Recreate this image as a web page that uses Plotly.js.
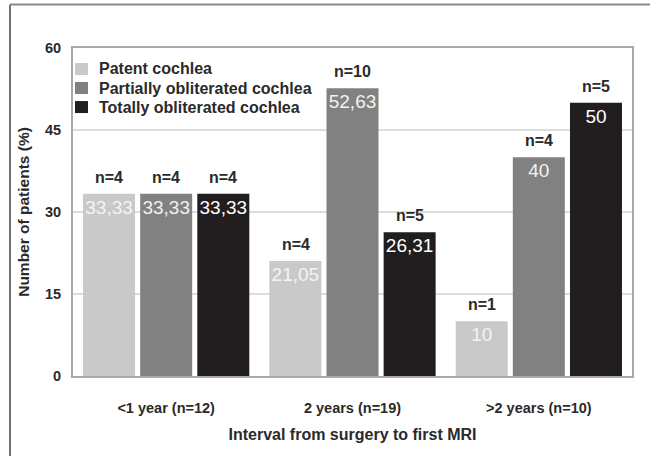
<!DOCTYPE html>
<html>
<head>
<meta charset="utf-8">
<script src="https://cdn.plot.ly/plotly-3.0.1.min.js"></script>
<style>
  html, body { margin: 0; padding: 0; background: #ffffff; }
  #chart { width: 650px; height: 456px; }
</style>
</head>
<body>
<div id="chart"></div>
<script>
// ---- data ----
const categories = ['<1 year (n=12)', '2 years (n=19)', '>2 years (n=10)'];
const seriesNames = ['Patent cochlea', 'Partially obliterated cochlea', 'Totally obliterated cochlea'];
const patentValues = [33.33, 21.05, 10];
const partialValues = [33.33, 52.63, 40];
const totalValues = [33.33, 26.31, 50];
const patentN = [4, 4, 1];
const partialN = [4, 10, 4];
const totalN = [4, 5, 5];
const yTicks = [0, 15, 30, 45, 60];

// ---- styles ----
const FONT = 'Liberation Sans, Arial, Helvetica, sans-serif';
const colors = ['#c9c9c9', '#818181', '#221e1f'];
const textColors = ['#f4f4f4', '#f2f2f2', '#ffffff'];
const seriesValues = [patentValues, partialValues, totalValues];
const seriesN = [patentN, partialN, totalN];
const offsets = [-57, 0, 57];
const TXT = '#2a2a2a';

function fmt(v) { return String(v).replace('.', ','); }

const traces = seriesValues.map((vals, i) => ({
  type: 'bar',
  name: seriesNames[i],
  x: categories,
  y: vals,
  marker: { color: colors[i], line: { width: 0 } },
  text: vals.map(fmt),
  textposition: 'inside',
  insidetextanchor: 'end',
  textangle: 0,
  constraintext: 'none',
  insidetextfont: { family: FONT, size: 19, color: textColors[i] },
  hoverinfo: 'none',
  showlegend: false
}));

const annotations = [];
seriesN.forEach((ns, i) => {
  ns.forEach((n, j) => {
    annotations.push({
      x: categories[j], y: seriesValues[i][j], xref: 'x', yref: 'y',
      text: 'n=' + n, showarrow: false, xanchor: 'center', yanchor: 'bottom',
      xshift: offsets[i], yshift: 6,
      font: { family: FONT, size: 16, color: TXT, weight: 'bold' }
    });
  });
});

// custom legend (tighter row spacing than Plotly's built-in legend)
const shapes = [];
const legendRowsY = [0.936, 0.878, 0.820];
const legendRowHalf = 0.0183;
seriesNames.forEach((name, i) => {
  shapes.push({
    type: 'rect', xref: 'paper', yref: 'paper',
    x0: 0.0036, x1: 0.0268,
    y0: legendRowsY[i] - legendRowHalf, y1: legendRowsY[i] + legendRowHalf,
    fillcolor: colors[i], line: { width: 0 }
  });
  annotations.push({
    xref: 'paper', yref: 'paper', x: 0.0429, y: legendRowsY[i],
    xanchor: 'left', yanchor: 'middle', showarrow: false,
    text: name,
    font: { family: FONT, size: 16, color: TXT, weight: 'bold' }
  });
});

// outer frame of the figure
shapes.push(
  { type: 'line', xref: 'paper', yref: 'paper', x0: -0.1127, x1: -0.1127, y0: -0.3, y1: 1.1326,
    line: { color: '#444444', width: 1.5 } },
  { type: 'line', xref: 'paper', yref: 'paper', x0: -0.1127, x1: 1.1, y0: 1.1326, y1: 1.1326,
    line: { color: '#888888', width: 2 } }
);

const layout = {
  width: 650, height: 456,
  margin: { l: 73, r: 18, t: 48, b: 80 },
  paper_bgcolor: '#ffffff', plot_bgcolor: '#ffffff',
  barmode: 'group', bargap: 0.08, bargroupgap: 0.09,
  showlegend: false,
  xaxis: {
    type: 'category',
    showgrid: false, zeroline: false,
    showline: true, linecolor: '#a8a8a8', linewidth: 2, mirror: true,
    ticks: 'outside', ticklen: 18, tickcolor: 'rgba(0,0,0,0)',
    tickfont: { family: FONT, size: 14.5, color: TXT, weight: 'bold' },
    title: { text: 'Interval from surgery to first MRI', standoff: 13,
             font: { family: FONT, size: 16, color: TXT, weight: 'bold' } },
    fixedrange: true
  },
  yaxis: {
    range: [0, 60], tickvals: yTicks, ticktext: yTicks.map(String),
    showgrid: true, gridcolor: '#dcdcdc', gridwidth: 1.5,
    zeroline: false,
    showline: true, linecolor: '#a8a8a8', linewidth: 2, mirror: true,
    ticks: 'outside', ticklen: 7, tickcolor: 'rgba(0,0,0,0)',
    tickfont: { family: FONT, size: 14.5, color: TXT, weight: 'bold' },
    title: { text: 'Number of patients (%)', standoff: 12,
             font: { family: FONT, size: 15.5, color: TXT, weight: 'bold' } },
    fixedrange: true
  },
  annotations: annotations,
  shapes: shapes
};

Plotly.newPlot('chart', traces, layout, { displayModeBar: false, staticPlot: true });
</script>
</body>
</html>
